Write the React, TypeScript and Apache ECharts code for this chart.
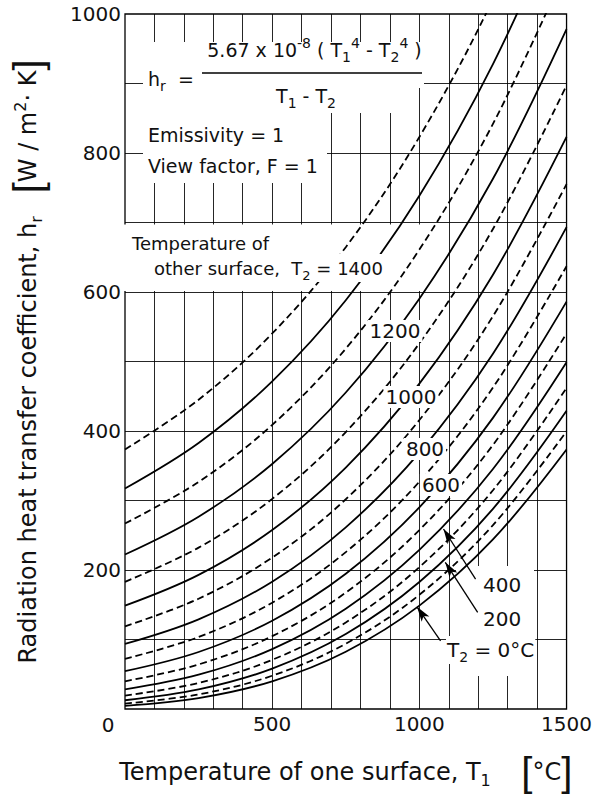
import React, { useEffect, useRef } from "react";
import * as echarts from "echarts";

// Temperature of one surface, T1 [°C] (sample points)
const T1_POINTS = [0, 250, 500, 750, 1000, 1250, 1500];
// Temperature of the other surface, T2 [°C]
const T2_LEVELS = [0, 100, 200, 300, 400, 500, 600, 700, 800, 900, 1000, 1100, 1200, 1300, 1400, 1500];

// Radiation heat transfer coefficient h_r [W/m²·K], one list per T2 curve
const HR_T2_0 = [4.6, 15.7, 39.9, 82.4, 148.7, 243.9, 373.5];
const HR_T2_100 = [7.8, 21.0, 47.9, 93.9, 164.3, 264.5, 399.6];
const HR_T2_200 = [12.6, 28.1, 58.1, 107.8, 182.7, 288.0, 429.0];
const HR_T2_300 = [19.4, 37.4, 70.7, 124.5, 204.1, 314.8, 462.0];
const HR_T2_400 = [28.3, 49.3, 86.2, 144.3, 228.9, 345.4, 499.0];
const HR_T2_500 = [39.9, 64.1, 104.8, 167.5, 257.5, 379.9, 540.3];
const HR_T2_600 = [54.4, 82.0, 127.0, 194.6, 290.1, 418.9, 586.2];
const HR_T2_700 = [72.2, 103.6, 153.0, 225.7, 327.1, 462.5, 637.1];
const HR_T2_800 = [93.6, 129.0, 183.2, 261.4, 368.9, 511.1, 693.3];
const HR_T2_900 = [119.0, 158.7, 217.9, 301.8, 415.8, 565.2, 755.2];
const HR_T2_1000 = [148.7, 193.0, 257.5, 347.4, 468.1, 624.9, 823.1];
const HR_T2_1100 = [183.0, 232.2, 302.3, 398.5, 526.2, 690.7, 897.3];
const HR_T2_1200 = [222.3, 276.7, 352.6, 455.4, 590.4, 762.9, 978.3];
const HR_T2_1300 = [266.9, 326.7, 408.8, 518.5, 661.1, 841.9, 1066.2];
const HR_T2_1400 = [317.2, 382.7, 471.3, 588.1, 738.5, 927.9, 1161.5];
const HR_T2_1500 = [373.5, 445.0, 540.3, 664.5, 823.1, 1021.3, 1264.5];

const HR_CURVES = [
  HR_T2_0, HR_T2_100, HR_T2_200, HR_T2_300, HR_T2_400, HR_T2_500, HR_T2_600, HR_T2_700,
  HR_T2_800, HR_T2_900, HR_T2_1000, HR_T2_1100, HR_T2_1200, HR_T2_1300, HR_T2_1400, HR_T2_1500,
];

// Tick labels (the shared origin label "0" sits left of the corner)
const X_LABELED_TICKS = [500, 1000, 1500];
const Y_LABELED_TICKS = [200, 400, 600, 800, 1000];
const ORIGIN_LABEL = "0";

// Leader arrows (data coords) for the 400, 200 and T2 = 0°C labels
const ARROW_TAILS = [[1191, 187], [1198, 139], [1072, 98]];
const ARROW_HEADS = [[1082, 259], [1088, 211], [992, 147]];

const FONT = "'DejaVu Sans', 'Noto Sans', sans-serif";
const BRACKET_FONT = "'Liberation Sans', sans-serif";
const INK = "#111";

function gRich(sz: number) {
  return {
    s: { fontSize: sz, fontFamily: FONT, fill: INK, lineHeight: 12, verticalAlign: "bottom" },
    p: { fontSize: sz, fontFamily: FONT, fill: INK, lineHeight: 12, verticalAlign: "top" },
  };
}

function gText(x: number, y: number, text: string, opts: any = {}) {
  const fontSize = opts.fontSize ?? 19;
  const align = opts.align ?? "left";
  return {
    type: "text",
    x,
    y,
    z: 100,
    silent: true,
    style: {
      text,
      fontSize,
      fontFamily: FONT,
      fill: INK,
      lineHeight: 28,
      align,
      textAlign: align,
      verticalAlign: "middle",
      textVerticalAlign: "middle",
      rich: gRich(Math.round(fontSize * 0.72)),
      ...opts,
    },
  };
}

function whiteRect(x: number, y: number, w: number, h: number) {
  return { type: "rect", z: 1, silent: true, shape: { x, y, width: w, height: h }, style: { fill: "#fff" } };
}

function buildOption() {
  const nameRich = {
    s: { fontSize: 16, fontFamily: FONT, color: INK, lineHeight: 14, verticalAlign: "bottom" },
    p: { fontSize: 16, fontFamily: FONT, color: INK, lineHeight: 14, verticalAlign: "top" },
    b: { fontSize: 40, fontFamily: BRACKET_FONT, color: INK, lineHeight: 32 },
  };
  const nameStyle = { fontSize: 24, fontFamily: FONT, color: INK, lineHeight: 32, rich: nameRich };
  const tickStyle = { fontSize: 20, fontFamily: FONT, color: INK };
  const gridLine = { show: true, showMinLine: false, showMaxLine: false, lineStyle: { color: "#000", width: 1, opacity: 0.85 } };

  const series: any[] = T2_LEVELS.map((t2, i) => ({
    type: "line",
    name: `T2 = ${t2} °C`,
    data: T1_POINTS.map((t1, j) => [t1, HR_CURVES[i][j]]),
    smooth: 0.35,
    symbol: "none",
    showSymbol: false,
    clip: true,
    silent: true,
    z: 2,
    lineStyle: { color: "#000", width: 1.8, type: t2 % 200 === 0 ? "solid" : [7, 4] },
    ...(t2 === 0
      ? {
          markLine: {
            silent: true,
            symbol: ["none", "arrow"],
            symbolSize: [7, 15],
            label: { show: false },
            emphasis: { disabled: true },
            lineStyle: { color: "#000", width: 1.3, type: "solid" },
            data: ARROW_TAILS.map((tail, k) => [{ coord: tail }, { coord: ARROW_HEADS[k] }]),
          },
        }
      : {}),
  }));

  const nb = "\u00a0";
  const onCurve = { fontSize: 20, lineHeight: 20, align: "center", textAlign: "center", backgroundColor: "#fff", padding: [1, 2] };

  const graphic = [
    // blank areas behind the lettering (grid hidden)
    whiteRect(143, 42, 281, 46),
    whiteRect(143, 88, 273, 25),
    whiteRect(143, 113, 184, 70),
    whiteRect(121, 224.5, 318, 66.5),
    whiteRect(456, 566, 78, 110),
    // formula
    gText(148, 79, "h{s|r}" + nb + nb + "="),
    gText(314.5, 50, "5.67 x 10{p|-8} ( T{s|1}{p|4} - T{s|2}{p|4} )", { align: "center", textAlign: "center" }),
    {
      type: "line",
      z: 100,
      silent: true,
      shape: { x1: 202, y1: 73, x2: 422, y2: 73 },
      style: { stroke: "#000", lineWidth: 1.6 },
    },
    gText(306, 96, "T{s|1} - T{s|2}", { align: "center", textAlign: "center" }),
    gText(148, 135, "Emissivity = 1"),
    gText(148, 166, "View factor, F = 1"),
    // other surface legend
    gText(132, 243, "Temperature of", { fontSize: 18 }),
    gText(152, 268, "other surface," + nb + nb + "T{s|2} = 1400", {
      fontSize: 18,
      backgroundColor: "#fff",
      padding: [0, 2],
    }),
    // labels on curves
    gText(395, 331, "1200", onCurve),
    gText(411, 397, "1000", onCurve),
    gText(425, 449, "800", onCurve),
    gText(441, 485, "600", onCurve),
    gText(483, 584.5, "400", { fontSize: 20, lineHeight: 20 }),
    gText(483, 618.5, "200", { fontSize: 20, lineHeight: 20 }),
    gText(446, 650, "T{s|2} = 0°C", { fontSize: 20, backgroundColor: "#fff", padding: [0, 1] }),
    // origin tick label
    gText(108, 725, ORIGIN_LABEL, { fontSize: 20, lineHeight: 20, align: "center", textAlign: "center" }),
  ];

  return {
    animation: false,
    backgroundColor: "#fff",
    grid: {
      left: 119,
      right: 24,
      top: 14,
      bottom: 87,
      show: true,
      borderColor: "#000",
      borderWidth: 1.3,
      backgroundColor: "transparent",
    },
    xAxis: {
      type: "value",
      min: 0,
      max: 1500,
      interval: 100,
      axisLine: { show: false },
      axisTick: { show: false },
      splitLine: gridLine,
      axisLabel: {
        ...tickStyle,
        margin: 5,
        formatter: (v: number) => (X_LABELED_TICKS.includes(v) ? String(v) : ""),
      },
      name: "Temperature of one surface, T{s|1}" + nb + nb + nb + nb + "{b|[}°C{b|]}",
      nameLocation: "middle",
      nameGap: 47,
      nameTextStyle: nameStyle,
    },
    yAxis: {
      type: "value",
      min: 0,
      max: 1000,
      interval: 100,
      axisLine: { show: false },
      axisTick: { show: false },
      splitLine: gridLine,
      axisLabel: {
        ...tickStyle,
        margin: 4,
        formatter: (v: number) => (Y_LABELED_TICKS.includes(v) ? String(v) : ""),
      },
      name:
        "Radiation heat transfer coefficient, h{s|r}" + nb + nb + nb + "{b|[}W / m{p|2}·" + nb + "K{b|]}",
      nameLocation: "middle",
      nameRotate: 90,
      nameGap: 81,
      nameTextStyle: nameStyle,
    },
    series,
    graphic,
  };
}

export default function App() {
  const ref = useRef<HTMLDivElement>(null);
  useEffect(() => {
    if (!ref.current) return;
    const chart = echarts.init(ref.current, null, { renderer: "svg" });
    chart.setOption(buildOption() as any);
    return () => chart.dispose();
  }, []);
  return (
    <div
      ref={ref}
      style={{ position: "fixed", left: 0, top: 0, width: 595, height: 797, background: "#fff" }}
    />
  );
}
